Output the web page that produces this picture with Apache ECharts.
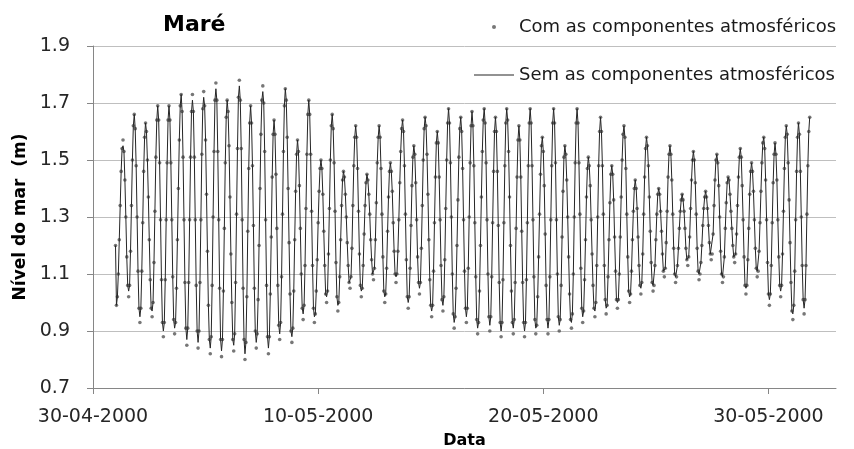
<!DOCTYPE html>
<html>
<head>
<meta charset="utf-8">
<script src="https://cdn.jsdelivr.net/npm/echarts@6/dist/echarts.min.js"></script>
<style>
  html, body { margin: 0; padding: 0; background: #ffffff; }
  #chart { width: 854px; height: 449px; }
</style>
</head>
<body>
<div id="chart"></div>
<script>
// Hourly sea level (m), 01-05-2000 00:00 onwards, one row per day.
const startDay = 1; // first reading, in days after 30-04-2000 00:00
const xTickDays = [0, 10, 20, 30];
const xTickLabels = ['30-04-2000', '10-05-2000', '20-05-2000', '30-05-2000'];

// with atmospheric components (dots)
const nivelCom = [
  1.20,0.99,1.02,1.10,1.22,1.34,1.46,1.54,1.57,1.53,1.43,1.30,1.16,1.06,1.02,1.06,1.18,1.34,1.50,1.62,1.66,1.61,1.48,1.30,
  1.11,0.98,0.93,0.98,1.11,1.28,1.46,1.58,1.63,1.60,1.50,1.37,1.22,1.08,0.98,0.95,1.00,1.14,1.32,1.51,1.64,1.69,1.64,1.49,
  1.29,1.08,0.93,0.88,0.93,1.08,1.29,1.49,1.64,1.69,1.64,1.49,1.29,1.09,0.94,0.89,0.93,1.05,1.22,1.40,1.57,1.69,1.73,1.67,
  1.51,1.29,1.07,0.91,0.85,0.91,1.07,1.29,1.51,1.67,1.73,1.67,1.51,1.29,1.06,0.90,0.84,0.90,1.07,1.29,1.52,1.68,1.74,1.69,
  1.57,1.38,1.18,0.99,0.87,0.82,0.88,1.06,1.30,1.53,1.71,1.77,1.71,1.53,1.29,1.05,0.87,0.81,0.87,1.04,1.26,1.49,1.65,1.71,
  1.67,1.55,1.37,1.17,1.00,0.87,0.83,0.89,1.07,1.31,1.54,1.72,1.78,1.71,1.54,1.29,1.05,0.87,0.80,0.86,1.02,1.25,1.47,1.63,
  1.69,1.63,1.48,1.27,1.05,0.90,0.84,0.89,1.01,1.20,1.40,1.59,1.71,1.76,1.70,1.53,1.29,1.06,0.88,0.82,0.88,1.03,1.23,1.44,
  1.59,1.64,1.59,1.45,1.26,1.06,0.92,0.87,0.93,1.09,1.31,1.53,1.69,1.75,1.71,1.58,1.40,1.21,1.03,0.90,0.86,0.91,1.04,1.22,
  1.39,1.52,1.57,1.53,1.41,1.26,1.10,0.98,0.94,0.99,1.13,1.33,1.52,1.66,1.71,1.66,1.52,1.32,1.13,0.98,0.93,0.96,1.04,1.15,
  1.28,1.39,1.47,1.50,1.47,1.38,1.25,1.13,1.03,1.00,1.04,1.17,1.33,1.50,1.62,1.66,1.61,1.49,1.32,1.14,1.02,0.97,1.00,1.09,
  1.22,1.34,1.43,1.46,1.44,1.38,1.30,1.21,1.13,1.07,1.05,1.09,1.19,1.34,1.48,1.58,1.62,1.58,1.47,1.32,1.17,1.06,1.02,1.05,
  1.13,1.24,1.34,1.42,1.45,1.43,1.38,1.31,1.22,1.15,1.10,1.08,1.12,1.22,1.35,1.49,1.58,1.62,1.58,1.47,1.31,1.16,1.04,1.00,
  1.03,1.12,1.25,1.37,1.46,1.49,1.46,1.39,1.28,1.18,1.10,1.07,1.10,1.18,1.29,1.42,1.53,1.61,1.64,1.60,1.48,1.31,1.15,1.02,
  0.98,1.02,1.12,1.27,1.41,1.51,1.55,1.52,1.42,1.29,1.16,1.07,1.03,1.07,1.19,1.34,1.50,1.61,1.65,1.62,1.52,1.38,1.22,1.08,
  0.99,0.95,0.99,1.11,1.28,1.44,1.56,1.60,1.56,1.44,1.29,1.13,1.01,0.97,1.02,1.15,1.33,1.50,1.63,1.68,1.63,1.49,1.30,1.10,
  0.96,0.91,0.95,1.05,1.20,1.36,1.51,1.61,1.65,1.60,1.47,1.29,1.11,0.98,0.93,0.98,1.12,1.30,1.49,1.62,1.67,1.62,1.48,1.28,
  1.09,0.94,0.89,0.93,1.04,1.20,1.37,1.53,1.64,1.68,1.63,1.49,1.29,1.10,0.95,0.90,0.95,1.09,1.28,1.46,1.60,1.65,1.60,1.46,
  1.27,1.07,0.93,0.88,0.93,1.08,1.28,1.48,1.63,1.68,1.64,1.53,1.37,1.20,1.04,0.93,0.89,0.94,1.07,1.26,1.44,1.57,1.62,1.57,
  1.44,1.25,1.07,0.93,0.88,0.93,1.08,1.28,1.48,1.63,1.68,1.63,1.48,1.29,1.09,0.94,0.89,0.92,1.02,1.16,1.31,1.45,1.55,1.58,
  1.53,1.41,1.24,1.06,0.94,0.89,0.94,1.09,1.29,1.48,1.63,1.68,1.63,1.49,1.29,1.10,0.95,0.90,0.94,1.06,1.23,1.39,1.51,1.55,
  1.52,1.43,1.30,1.16,1.03,0.94,0.91,0.96,1.10,1.30,1.49,1.63,1.68,1.63,1.49,1.31,1.12,0.98,0.93,0.97,1.08,1.22,1.37,1.47,
  1.51,1.48,1.41,1.29,1.17,1.06,0.98,0.95,1.00,1.13,1.30,1.48,1.60,1.65,1.60,1.48,1.31,1.13,1.01,0.96,0.99,1.09,1.22,1.35,
  1.45,1.48,1.45,1.36,1.23,1.11,1.01,0.98,1.01,1.10,1.23,1.37,1.50,1.59,1.62,1.58,1.47,1.31,1.16,1.04,1.00,1.03,1.11,1.22,
  1.32,1.40,1.43,1.40,1.33,1.23,1.13,1.06,1.03,1.07,1.17,1.31,1.44,1.54,1.58,1.55,1.48,1.37,1.25,1.14,1.07,1.04,1.06,1.13,
  1.22,1.31,1.38,1.40,1.38,1.32,1.25,1.17,1.11,1.09,1.12,1.21,1.32,1.44,1.52,1.55,1.52,1.43,1.31,1.19,1.10,1.07,1.09,1.13,
  1.19,1.26,1.32,1.36,1.38,1.36,1.32,1.26,1.19,1.15,1.13,1.16,1.23,1.33,1.43,1.50,1.53,1.50,1.42,1.31,1.19,1.11,1.08,1.10,
  1.14,1.20,1.27,1.33,1.37,1.39,1.37,1.33,1.27,1.21,1.17,1.15,1.17,1.24,1.34,1.43,1.50,1.52,1.49,1.41,1.30,1.18,1.10,1.07,
  1.09,1.16,1.26,1.35,1.42,1.44,1.43,1.38,1.32,1.26,1.20,1.16,1.14,1.17,1.24,1.34,1.44,1.51,1.54,1.51,1.41,1.29,1.16,1.06,
  1.03,1.06,1.15,1.26,1.38,1.46,1.49,1.46,1.39,1.29,1.19,1.12,1.09,1.11,1.18,1.28,1.39,1.49,1.56,1.58,1.54,1.43,1.29,1.14,
  1.03,0.99,1.03,1.13,1.28,1.42,1.52,1.56,1.52,1.43,1.29,1.16,1.06,1.02,1.06,1.17,1.32,1.47,1.58,1.62,1.59,1.49,1.36,1.21,
  1.07,0.97,0.94,0.99,1.11,1.29,1.46,1.58,1.63,1.59,1.46,1.30,1.13,1.01,0.96,1.01,1.13,1.31,1.48,1.60,1.65
];

// without atmospheric components (line)
const nivelSem = [
  1.20,0.99,1.02,1.10,1.22,1.34,1.46,1.54,1.55,1.53,1.43,1.30,1.16,1.06,1.04,1.06,1.18,1.34,1.50,1.62,1.66,1.61,1.48,1.30,
  1.11,0.98,0.95,0.98,1.11,1.28,1.46,1.58,1.63,1.60,1.50,1.37,1.22,1.08,0.98,0.97,1.00,1.14,1.32,1.51,1.64,1.69,1.64,1.49,
  1.29,1.08,0.93,0.90,0.93,1.08,1.29,1.49,1.64,1.69,1.64,1.49,1.29,1.09,0.94,0.91,0.93,1.05,1.22,1.40,1.57,1.69,1.73,1.67,
  1.51,1.29,1.07,0.91,0.87,0.91,1.07,1.29,1.51,1.67,1.71,1.67,1.51,1.29,1.06,0.90,0.86,0.90,1.07,1.29,1.52,1.68,1.72,1.69,
  1.57,1.38,1.18,0.99,0.87,0.84,0.88,1.06,1.30,1.53,1.71,1.75,1.71,1.53,1.29,1.05,0.87,0.83,0.87,1.04,1.26,1.49,1.65,1.71,
  1.67,1.55,1.37,1.17,1.00,0.87,0.85,0.89,1.07,1.31,1.54,1.72,1.76,1.71,1.54,1.29,1.05,0.87,0.82,0.86,1.02,1.25,1.47,1.63,
  1.69,1.63,1.48,1.27,1.05,0.90,0.86,0.89,1.01,1.20,1.40,1.59,1.71,1.74,1.70,1.53,1.29,1.06,0.88,0.84,0.88,1.03,1.23,1.44,
  1.59,1.64,1.59,1.45,1.26,1.06,0.92,0.89,0.93,1.09,1.31,1.53,1.69,1.75,1.71,1.58,1.40,1.21,1.03,0.90,0.88,0.91,1.04,1.22,
  1.39,1.52,1.57,1.53,1.41,1.26,1.10,0.98,0.96,0.99,1.13,1.33,1.52,1.66,1.71,1.66,1.52,1.32,1.13,0.98,0.95,0.96,1.04,1.15,
  1.28,1.39,1.47,1.50,1.47,1.38,1.25,1.13,1.03,1.02,1.04,1.17,1.33,1.50,1.62,1.66,1.61,1.49,1.32,1.14,1.02,0.99,1.00,1.09,
  1.22,1.34,1.43,1.46,1.44,1.38,1.30,1.21,1.13,1.07,1.07,1.09,1.19,1.34,1.48,1.58,1.62,1.58,1.47,1.32,1.17,1.06,1.04,1.05,
  1.13,1.24,1.34,1.42,1.45,1.43,1.38,1.31,1.22,1.15,1.10,1.10,1.12,1.22,1.35,1.49,1.58,1.62,1.58,1.47,1.31,1.16,1.04,1.02,
  1.03,1.12,1.25,1.37,1.46,1.49,1.46,1.39,1.28,1.18,1.10,1.09,1.10,1.18,1.29,1.42,1.53,1.61,1.64,1.60,1.48,1.31,1.15,1.02,
  1.00,1.02,1.12,1.27,1.41,1.51,1.55,1.52,1.42,1.29,1.16,1.07,1.05,1.07,1.19,1.34,1.50,1.61,1.65,1.62,1.52,1.38,1.22,1.08,
  0.99,0.97,0.99,1.11,1.28,1.44,1.56,1.60,1.56,1.44,1.29,1.13,1.01,0.99,1.02,1.15,1.33,1.50,1.63,1.68,1.63,1.49,1.30,1.10,
  0.96,0.93,0.95,1.05,1.20,1.36,1.51,1.61,1.65,1.60,1.47,1.29,1.11,0.98,0.95,0.98,1.12,1.30,1.49,1.62,1.67,1.62,1.48,1.28,
  1.09,0.94,0.91,0.93,1.04,1.20,1.37,1.53,1.64,1.68,1.63,1.49,1.29,1.10,0.95,0.92,0.95,1.09,1.28,1.46,1.60,1.65,1.60,1.46,
  1.27,1.07,0.93,0.90,0.93,1.08,1.28,1.48,1.63,1.68,1.64,1.53,1.37,1.20,1.04,0.93,0.91,0.94,1.07,1.26,1.44,1.57,1.62,1.57,
  1.44,1.25,1.07,0.93,0.90,0.93,1.08,1.28,1.48,1.63,1.68,1.63,1.48,1.29,1.09,0.94,0.91,0.92,1.02,1.16,1.31,1.45,1.55,1.58,
  1.53,1.41,1.24,1.06,0.94,0.91,0.94,1.09,1.29,1.48,1.63,1.68,1.63,1.49,1.29,1.10,0.95,0.92,0.94,1.06,1.23,1.39,1.51,1.55,
  1.52,1.43,1.30,1.16,1.03,0.94,0.93,0.96,1.10,1.30,1.49,1.63,1.68,1.63,1.49,1.31,1.12,0.98,0.95,0.97,1.08,1.22,1.37,1.47,
  1.51,1.48,1.41,1.29,1.17,1.06,0.98,0.97,1.00,1.13,1.30,1.48,1.60,1.65,1.60,1.48,1.31,1.13,1.01,0.98,0.99,1.09,1.22,1.35,
  1.45,1.48,1.45,1.36,1.23,1.11,1.01,1.00,1.01,1.10,1.23,1.37,1.50,1.59,1.62,1.58,1.47,1.31,1.16,1.04,1.02,1.03,1.11,1.22,
  1.32,1.40,1.43,1.40,1.33,1.23,1.13,1.06,1.05,1.07,1.17,1.31,1.44,1.54,1.58,1.55,1.48,1.37,1.25,1.14,1.07,1.06,1.06,1.13,
  1.22,1.31,1.38,1.40,1.38,1.32,1.25,1.17,1.11,1.11,1.12,1.21,1.32,1.44,1.52,1.55,1.52,1.43,1.31,1.19,1.10,1.09,1.09,1.13,
  1.19,1.26,1.32,1.36,1.38,1.36,1.32,1.26,1.19,1.15,1.15,1.16,1.23,1.33,1.43,1.50,1.53,1.50,1.42,1.31,1.19,1.11,1.10,1.10,
  1.14,1.20,1.27,1.33,1.37,1.39,1.37,1.33,1.27,1.21,1.17,1.17,1.17,1.24,1.34,1.43,1.50,1.52,1.49,1.41,1.30,1.18,1.10,1.09,
  1.09,1.16,1.26,1.35,1.42,1.44,1.43,1.38,1.32,1.26,1.20,1.16,1.16,1.17,1.24,1.34,1.44,1.51,1.54,1.51,1.41,1.29,1.16,1.06,
  1.05,1.06,1.15,1.26,1.38,1.46,1.49,1.46,1.39,1.29,1.19,1.12,1.11,1.11,1.18,1.28,1.39,1.49,1.56,1.58,1.54,1.43,1.29,1.14,
  1.03,1.01,1.03,1.13,1.28,1.42,1.52,1.56,1.52,1.43,1.29,1.16,1.06,1.04,1.06,1.17,1.32,1.47,1.58,1.62,1.59,1.49,1.36,1.21,
  1.07,0.97,0.96,0.99,1.11,1.29,1.46,1.58,1.63,1.59,1.46,1.30,1.13,1.01,0.98,1.01,1.13,1.31,1.48,1.60,1.65
];

const FONT = 'DejaVu Sans';
const nameCom = 'Com as componentes atmosféricos';
const nameSem = 'Sem as componentes atmosféricos';

// x in days after 30-04-2000, one reading per hour
const toPoints = arr => arr.map((v, i) => [startDay + i / 24, v]);

const chart = echarts.init(document.getElementById('chart'), null, { renderer: 'canvas' });

const legendText = { fontFamily: FONT, fontSize: 18, color: '#1a1a1a' };

chart.setOption({
  animation: false,
  backgroundColor: '#ffffff',
  textStyle: { fontFamily: FONT },
  title: {
    text: 'Maré',
    left: 163,
    top: 14,
    padding: 0,
    textStyle: { fontFamily: FONT, fontSize: 22, fontWeight: 'bold', color: '#000000' }
  },
  legend: [
    {
      // the dot icon sits in the middle of a 40px slot; the box starts at the dot
      data: [{ name: nameCom, icon: 'circle' }],
      orient: 'vertical',
      align: 'left',
      left: 492,
      top: 18,
      padding: 0,
      itemWidth: 40,
      itemHeight: 4,
      textStyle: legendText
    },
    {
      data: [{ name: nameSem, icon: 'rect' }],
      orient: 'vertical',
      align: 'left',
      left: 474,
      top: 66,
      padding: 0,
      itemWidth: 40,
      itemHeight: 1,
      textStyle: legendText
    }
  ],
  grid: { left: 93, right: 18, top: 46, bottom: 61, containLabel: false, outerBoundsMode: 'none' },
  xAxis: {
    type: 'value',
    min: 0,
    max: 33,
    interval: 10,
    name: 'Data',
    nameLocation: 'middle',
    nameGap: 45,
    nameTextStyle: { fontFamily: FONT, fontSize: 16, fontWeight: 'bold', color: '#000000' },
    axisLine: { show: true, onZero: false, lineStyle: { color: '#868686', width: 1 } },
    axisTick: { show: true, inside: false, length: 6, customValues: xTickDays, lineStyle: { color: '#868686' } },
    axisLabel: {
      customValues: xTickDays,
      margin: 20,
      fontFamily: FONT,
      fontSize: 19,
      color: '#262626',
      formatter: v => {
        const i = xTickDays.indexOf(Math.round(v));
        return i >= 0 ? xTickLabels[i] : '';
      }
    },
    splitLine: { show: false }
  },
  yAxis: {
    type: 'value',
    min: 0.7,
    max: 1.9,
    interval: 0.2,
    name: 'Nível do mar  (m)',
    nameLocation: 'middle',
    nameGap: 46,
    nameTextStyle: { fontFamily: FONT, fontSize: 17, fontWeight: 'bold', color: '#000000' },
    axisLine: { show: true, lineStyle: { color: '#868686', width: 1 } },
    axisTick: { show: true, inside: false, length: 6, lineStyle: { color: '#868686' } },
    axisLabel: {
      margin: 23,
      fontFamily: FONT,
      fontSize: 19,
      color: '#262626',
      formatter: v => v.toFixed(1)
    },
    splitLine: { show: true, lineStyle: { color: '#bfbfbf', width: 1 } }
  },
  series: [
    {
      name: nameCom,
      type: 'scatter',
      data: toPoints(nivelCom),
      symbol: 'circle',
      symbolSize: 3.6,
      itemStyle: { color: '#555555' },
      z: 2
    },
    {
      name: nameSem,
      type: 'line',
      data: toPoints(nivelSem),
      symbol: 'none',
      showSymbol: false,
      lineStyle: { color: '#262626', width: 1, join: 'bevel', cap: 'butt' },
      itemStyle: { color: '#262626' },
      z: 3
    }
  ]
});
</script>
</body>
</html>
